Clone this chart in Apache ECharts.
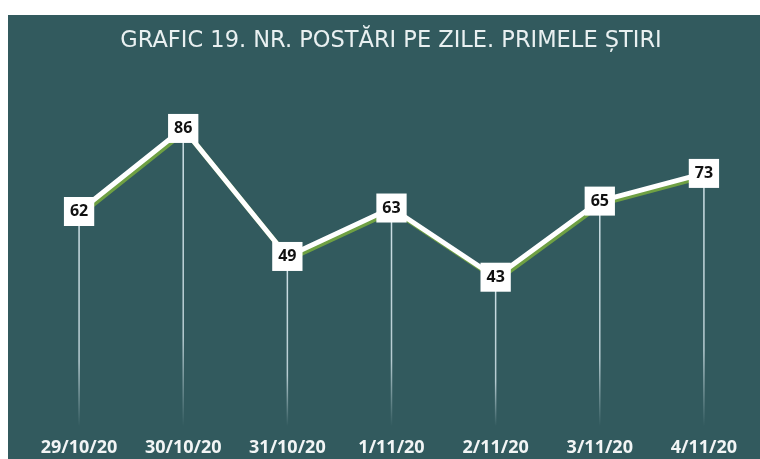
<!DOCTYPE html>
<html>
<head>
<meta charset="utf-8">
<script src="https://cdn.jsdelivr.net/npm/echarts@6/dist/echarts.min.js"></script>
<style>
  html, body { margin: 0; padding: 0; background: #ffffff; }
  #chart { position: absolute; left: 8px; top: 15px; width: 752px; height: 444px; }
</style>
</head>
<body>
<div id="chart"></div>
<script>
var days = ['29/10/20', '30/10/20', '31/10/20', '1/11/20', '2/11/20', '3/11/20', '4/11/20'];
var posts = [62, 86, 49, 63, 43, 65, 73];

var chartDom = document.getElementById('chart');
var myChart = echarts.init(chartDom);

var option = {
  backgroundColor: '#325a5e',
  animation: false,
  title: {
    text: 'GRAFIC 19. NR. POSTĂRI PE ZILE. PRIMELE ȘTIRI',
    left: 378,
    textAlign: 'center',
    top: 10,
    textStyle: {
      color: '#e9f0f1',
      fontFamily: 'DejaVu Sans',
      fontWeight: 'normal',
      fontSize: 22.5
    }
  },
  grid: { left: 19, right: 4, top: 65, bottom: 33 },
  xAxis: {
    type: 'category',
    data: days,
    boundaryGap: true,
    axisLine: { show: false },
    axisTick: { show: false },
    axisLabel: {
      color: '#f2f5f5',
      fontFamily: 'Open Sans',
      fontWeight: 'bold',
      fontSize: 18,
      margin: 13
    }
  },
  yAxis: {
    type: 'value',
    min: 0,
    max: 100,
    show: false,
    splitLine: { show: false }
  },
  series: [
    {
      // drop lines from each point to the bottom
      type: 'bar',
      data: posts,
      barWidth: 1.5,
      z: 1,
      itemStyle: {
        color: new echarts.graphic.LinearGradient(0, 0, 0, 1, [
          { offset: 0, color: 'rgba(215,232,238,0.95)' },
          { offset: 0.7, color: 'rgba(215,232,238,0.8)' },
          { offset: 1, color: 'rgba(215,232,238,0)' }
        ])
      }
    },
    {
      type: 'line',
      data: posts,
      z: 3,
      symbol: 'rect',
      symbolSize: 1,
      showSymbol: true,
      itemStyle: { color: '#ffffff' },
      lineStyle: {
        color: '#ffffff',
        width: 5,
        shadowColor: '#6fa043',
        shadowBlur: 0,
        shadowOffsetX: 2,
        shadowOffsetY: 2.5
      },
      label: {
        show: true,
        position: 'inside',
        color: '#111111',
        fontFamily: 'Open Sans',
        fontWeight: 'bold',
        fontSize: 16,
        lineHeight: 16,
        backgroundColor: '#ffffff',
        padding: [7, 6, 6, 6]
      }
    }
  ]
};
myChart.setOption(option);
</script>
</body>
</html>
